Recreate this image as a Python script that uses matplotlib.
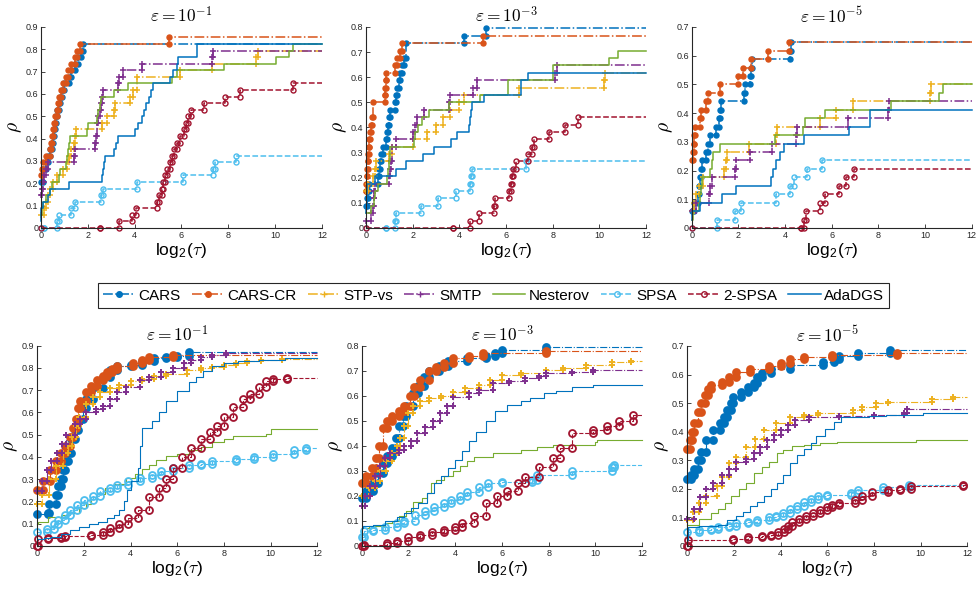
import matplotlib
matplotlib.use("Agg")
import matplotlib.pyplot as plt
from matplotlib.lines import Line2D
from matplotlib.ticker import FuncFormatter

plt.rcParams["font.family"] = ["Liberation Sans", "DejaVu Sans"]

SOLVERS = ["CARS", "CARS-CR", "STP-vs", "SMTP", "Nesterov", "SPSA", "2-SPSA", "AdaDGS"]
EPS_TITLES = [r"$\varepsilon = 10^{-1}$", r"$\varepsilon = 10^{-3}$", r"$\varepsilon = 10^{-5}$"]
YMAX = [0.9, 0.8, 0.7]
N_TOP = 34

# ---- top row: (log2 tau, problems solved out of N_TOP) ----
t1_cars = [(0, 7), (0.1, 9), (0.2, 10), (0.3, 11), (0.4, 12), (0.45, 13), (0.5, 14), (0.55, 15), (0.6, 16),
           (0.65, 17), (0.7, 18), (0.75, 19), (0.8, 20), (0.9, 21), (1.0, 22), (1.2, 23), (1.3, 24), (1.45, 25),
           (1.6, 26), (1.7, 27), (1.8, 28)]
t1_carscr = [(0, 8), (0.05, 9), (0.1, 10), (0.2, 11), (0.38, 12), (0.42, 13), (0.47, 14), (0.52, 15), (0.57, 16),
             (0.62, 17), (0.68, 18), (0.72, 19), (0.78, 20), (0.85, 21), (0.95, 22), (1.05, 23), (1.15, 24),
             (1.3, 25), (1.45, 26), (1.55, 27), (1.65, 28), (5.45, 29)]
t1_stp = [(0, 2), (0.15, 3), (0.2, 4), (0.3, 5), (0.4, 6), (0.5, 7), (0.7, 8), (0.95, 9), (1.1, 10), (1.2, 11),
          (1.3, 12), (1.4, 13), (1.45, 14), (1.5, 15), (2.6, 16), (2.8, 17), (3.1, 18), (3.15, 19), (3.8, 20),
          (3.95, 21), (4.1, 23), (5.95, 24), (7.3, 25), (9.2, 26), (9.25, 27)]
t1_smtp = [(0, 5), (0.05, 6), (0.1, 7), (0.15, 8), (0.2, 9), (0.3, 10), (1.4, 11), (1.45, 12), (2.3, 13),
           (2.35, 14), (2.4, 16), (2.45, 17), (2.5, 18), (2.55, 19), (2.6, 20), (2.65, 21), (3.3, 22), (3.35, 23),
           (3.5, 24), (4.3, 25), (7.3, 26), (7.35, 27)]
t1_nest = [(0, 2), (0.05, 3), (0.1, 4), (0.2, 5), (0.4, 6), (0.45, 7), (0.75, 8), (0.8, 9), (1.05, 10), (1.1, 11),
           (1.15, 12), (1.2, 13), (1.25, 14), (1.95, 15), (2.0, 16), (2.4, 17), (2.45, 18), (2.5, 19), (2.55, 20),
           (3.1, 21), (3.7, 22), (5.6, 23), (5.8, 24), (7.8, 25), (10.05, 26), (10.6, 27), (10.75, 28)]
t1_spsa = [(0, 0), (0.15, 0), (0.7, 1), (0.75, 2), (1.3, 3), (1.45, 4), (2.55, 5), (2.65, 6), (4.1, 7), (6.05, 8),
           (7.35, 9), (7.45, 10), (8.35, 11)]
t1_2spsa = [(0, 0), (2.5, 0), (3.35, 1), (3.9, 2), (4.05, 3), (4.95, 4), (5.05, 5), (5.15, 6), (5.2, 7), (5.3, 8),
            (5.4, 9), (5.5, 10), (5.6, 11), (5.7, 12), (5.8, 13), (5.95, 14), (6.1, 15), (6.2, 16), (6.3, 17),
            (6.4, 18), (6.95, 19), (7.85, 20), (8.5, 21), (10.75, 22)]
t1_ada = [(0, 1), (0.02, 3), (0.1, 4), (0.3, 5), (0.4, 6), (1.2, 7), (2.6, 8), (2.65, 9), (2.7, 10), (2.75, 11),
          (3.1, 12), (3.2, 13), (3.3, 14), (4.0, 15), (4.15, 16), (4.3, 17), (4.4, 18), (4.5, 19), (4.6, 20),
          (4.7, 21), (4.8, 22), (5.5, 23), (5.65, 24), (5.8, 25), (5.85, 26), (6.65, 28)]

t2_cars = [(0, 3), (0.05, 4), (0.1, 5), (0.15, 6), (0.5, 7), (0.55, 8), (0.6, 9), (0.65, 10), (0.75, 11),
           (0.85, 12), (0.9, 13), (0.95, 14), (1.0, 15), (1.05, 16), (1.25, 17), (1.3, 18), (1.35, 19), (1.4, 20),
           (1.45, 21), (1.55, 22), (1.65, 23), (1.7, 25), (4.2, 26), (5.15, 27)]
t2_carscr = [(0, 5), (0.02, 6), (0.04, 7), (0.06, 8), (0.08, 9), (0.1, 10), (0.12, 11), (0.14, 12), (0.16, 13),
             (0.2, 14), (0.25, 15), (0.32, 17), (0.8, 18), (0.82, 19), (0.84, 20), (0.86, 21), (1.25, 22),
             (1.35, 23), (1.45, 24), (1.55, 25), (5.0, 26)]
t2_stp = [(0, 5), (0.1, 6), (0.3, 7), (0.4, 8), (0.45, 9), (1.0, 10), (1.1, 11), (2.0, 12), (2.6, 13), (3.0, 14),
          (3.3, 15), (3.6, 16), (4.0, 17), (4.2, 18), (6.55, 19), (10.2, 20), (10.25, 21)]
t2_smtp = [(0, 1), (0.2, 2), (0.3, 3), (0.33, 4), (0.36, 5), (0.4, 6), (1.0, 7), (1.05, 8), (1.08, 9), (1.1, 11),
           (1.3, 12), (2.0, 13), (2.1, 14), (2.2, 15), (2.5, 16), (3.55, 17), (3.6, 18), (4.6, 19), (4.75, 20),
           (8.1, 21), (8.2, 22)]
t2_nest = [(0, 2), (0.2, 3), (0.35, 4), (0.4, 5), (0.5, 6), (0.9, 7), (0.95, 8), (1.0, 9), (1.05, 11), (2.05, 12),
           (2.1, 13), (2.25, 14), (2.4, 15), (2.7, 16), (3.55, 17), (4.9, 18), (6.1, 20), (8.0, 22), (10.4, 23),
           (10.8, 24)]
t2_spsa = [(0, 0), (0.85, 0), (1.25, 1), (1.3, 2), (2.35, 3), (3.1, 4), (3.85, 5), (4.45, 6), (4.5, 7), (4.55, 8),
           (6.85, 9)]
t2_2spsa = [(0, 0), (3.75, 0), (4.45, 1), (4.85, 2), (5.5, 3), (5.55, 4), (6.15, 5), (6.2, 6), (6.25, 7), (6.3, 8),
            (6.45, 9), (6.95, 10), (7.1, 11), (7.2, 12), (7.85, 13), (8.55, 14), (9.1, 15)]
t2_ada = [(0, 2), (0.02, 3), (0.04, 6), (0.4, 7), (1.3, 8), (1.7, 9), (2.45, 10), (2.9, 11), (3.65, 12),
          (3.9, 13), (4.4, 14), (4.45, 15), (4.5, 16), (4.55, 17), (5.05, 18), (6.65, 20), (6.95, 21)]

t3_cars = [(0, 2), (0.1, 3), (0.25, 4), (0.3, 5), (0.35, 6), (0.4, 7), (0.45, 8), (0.6, 9), (0.7, 10), (0.8, 11),
           (1.05, 12), (1.15, 13), (1.2, 14), (1.25, 15), (2.25, 16), (2.3, 17), (2.5, 18), (2.55, 19), (2.6, 20),
           (4.2, 21), (4.25, 22)]
t3_carscr = [(0, 8), (0.05, 9), (0.08, 10), (0.1, 11), (0.15, 12), (0.35, 13), (0.4, 14), (0.6, 15), (0.7, 16),
             (1.2, 17), (2.0, 18), (2.2, 19), (2.55, 20), (3.25, 21), (4.15, 22)]
t3_stp = [(0, 2), (0.1, 3), (0.2, 4), (0.3, 5), (0.5, 6), (1.4, 7), (1.45, 8), (1.5, 9), (2.45, 10), (3.6, 11),
          (3.65, 12), (5.5, 13), (6.2, 14), (6.9, 15), (10.2, 16), (10.25, 17)]
t3_smtp = [(0, 2), (0.2, 3), (0.75, 4), (0.8, 5), (0.85, 6), (1.85, 7), (1.9, 8), (2.5, 9), (3.45, 10),
           (4.45, 11), (4.5, 12), (6.7, 13), (8.4, 14), (8.45, 15)]
t3_nest = [(0, 1), (0.05, 2), (0.3, 3), (0.35, 4), (0.4, 5), (0.45, 6), (0.8, 7), (0.85, 8), (0.9, 9), (1.2, 10),
           (3.55, 11), (4.75, 12), (4.85, 13), (5.7, 14), (8.55, 15), (10.6, 16), (10.75, 17)]
t3_spsa = [(0, 0), (1.1, 1), (1.85, 2), (2.1, 3), (3.6, 4), (4.2, 5), (4.4, 6), (4.95, 7), (5.6, 8)]
t3_2spsa = [(0, 0), (4.7, 0), (4.8, 1), (4.9, 2), (5.5, 3), (5.7, 4), (6.3, 5), (6.6, 6), (6.95, 7)]
t3_ada = [(0, 1), (0.02, 2), (0.35, 3), (1.3, 4), (1.9, 5), (3.4, 6), (3.5, 7), (3.6, 8), (3.8, 9), (3.95, 10),
          (4.8, 11), (6.75, 12), (7.65, 14)]

# ---- bottom row: (log2 tau, rho) ----
b1_cars = [(0, 0.145), (0.45, 0.15), (0.5, 0.19), (0.8, 0.23), (0.9, 0.27), (1.0, 0.3), (1.1, 0.34), (1.2, 0.38),
           (1.3, 0.42), (1.45, 0.48), (1.6, 0.52), (1.75, 0.57), (1.95, 0.62), (2.1, 0.66), (2.4, 0.71),
           (2.8, 0.76), (3.1, 0.79), (3.4, 0.81), (4.0, 0.815), (4.5, 0.83), (5.0, 0.845), (5.5, 0.85),
           (6.0, 0.855), (6.5, 0.87)]
b1_carscr = [(0, 0.25), (0.25, 0.29), (0.55, 0.34), (0.8, 0.38), (1.0, 0.42), (1.2, 0.45), (1.4, 0.49),
             (1.55, 0.53), (1.65, 0.57), (1.75, 0.62), (1.85, 0.65), (2.1, 0.69), (2.3, 0.72), (2.55, 0.745),
             (2.8, 0.765), (3.0, 0.78), (3.2, 0.795), (3.4, 0.81), (4.1, 0.82), (4.5, 0.835), (4.8, 0.85),
             (5.8, 0.86)]
b1_stp = [(0, 0.19), (0.2, 0.23), (0.5, 0.3), (0.8, 0.36), (1.1, 0.42), (1.3, 0.45), (1.5, 0.49), (1.65, 0.54),
          (1.8, 0.58), (2.1, 0.64), (2.4, 0.67), (2.7, 0.69), (3.1, 0.71), (3.5, 0.725), (4.0, 0.74), (4.5, 0.75),
          (5.0, 0.765), (5.5, 0.775), (6.4, 0.79), (7.0, 0.8), (7.5, 0.805), (8.0, 0.815), (8.5, 0.82),
          (9.0, 0.83), (9.6, 0.835), (10.5, 0.84)]
b1_smtp = [(0, 0.245), (0.2, 0.29), (0.4, 0.34), (0.6, 0.38), (0.85, 0.42), (1.05, 0.46), (1.25, 0.5),
           (1.6, 0.55), (1.85, 0.57), (2.1, 0.6), (2.5, 0.615), (2.8, 0.63), (3.1, 0.66), (3.4, 0.69),
           (3.8, 0.715), (4.4, 0.745), (4.8, 0.76), (5.3, 0.78), (5.8, 0.8), (6.3, 0.82), (6.6, 0.835),
           (7.0, 0.85), (7.5, 0.86), (8.1, 0.865)]
b1_nest = [(0, 0.1), (0.05, 0.11), (0.45, 0.13), (1.0, 0.14), (1.3, 0.15), (1.8, 0.17), (2.1, 0.19), (2.3, 0.21),
           (2.55, 0.235), (2.9, 0.26), (3.3, 0.28), (3.8, 0.305), (4.2, 0.325), (4.5, 0.345), (4.8, 0.365),
           (5.1, 0.385), (5.5, 0.405), (6.0, 0.415), (6.5, 0.43), (7.0, 0.445), (7.5, 0.465), (8.0, 0.48),
           (8.4, 0.495), (9.8, 0.505), (10.0, 0.525)]
b1_spsa = [(0, 0.065), (0.4, 0.075), (0.7, 0.1), (0.9, 0.115), (1.2, 0.14), (1.4, 0.16), (1.7, 0.185),
           (2.0, 0.205), (2.4, 0.225), (2.7, 0.245), (3.1, 0.26), (3.4, 0.275), (3.9, 0.29), (4.4, 0.305),
           (4.9, 0.32), (5.3, 0.335), (5.8, 0.35), (6.5, 0.365), (7.0, 0.37), (7.5, 0.38), (8.5, 0.39),
           (9.3, 0.4), (10.1, 0.415), (11.0, 0.43), (11.5, 0.44)]
b1_2spsa = [(0, 0.0), (0.02, 0.03), (0.45, 0.035), (1.0, 0.04), (1.2, 0.045), (2.3, 0.05), (2.8, 0.065),
            (3.1, 0.08), (3.5, 0.1), (3.9, 0.125), (4.3, 0.16), (4.8, 0.22), (5.2, 0.26), (5.5, 0.3), (5.8, 0.35),
            (6.2, 0.4), (6.6, 0.44), (7.0, 0.48), (7.4, 0.51), (7.7, 0.54), (8.0, 0.58), (8.4, 0.625),
            (8.8, 0.66), (9.1, 0.685), (9.5, 0.715), (9.8, 0.74), (10.1, 0.75), (10.7, 0.755)]
b1_ada = [(0, 0.03), (0.3, 0.035), (0.6, 0.04), (1.0, 0.055), (1.4, 0.07), (1.8, 0.085), (2.2, 0.1), (2.6, 0.11),
          (3.0, 0.125), (3.3, 0.14), (3.5, 0.16), (3.7, 0.2), (3.85, 0.25), (4.0, 0.29), (4.3, 0.35),
          (4.4, 0.45), (4.5, 0.53), (4.9, 0.56), (5.2, 0.6), (5.5, 0.65), (6.0, 0.695), (6.5, 0.735),
          (6.8, 0.76), (7.1, 0.785), (7.5, 0.81), (8.0, 0.82), (8.6, 0.83), (9.5, 0.835), (10.6, 0.845)]

b2_cars = [(0, 0.19), (0.2, 0.22), (0.5, 0.25), (0.7, 0.29), (0.9, 0.33), (1.1, 0.36), (1.3, 0.39), (1.45, 0.43),
           (1.6, 0.48), (1.75, 0.52), (1.9, 0.56), (2.2, 0.61), (2.4, 0.64), (2.65, 0.675), (2.9, 0.7),
           (3.3, 0.72), (3.7, 0.74), (4.5, 0.75), (5.3, 0.76), (5.7, 0.77), (6.0, 0.785), (7.9, 0.795)]
b2_carscr = [(0, 0.25), (0.2, 0.28), (0.45, 0.31), (0.6, 0.35), (0.75, 0.4), (0.9, 0.47), (1.1, 0.5),
             (1.3, 0.52), (1.6, 0.54), (1.8, 0.56), (2.05, 0.6), (2.25, 0.635), (2.5, 0.665), (2.9, 0.7),
             (3.2, 0.715), (3.5, 0.73), (3.9, 0.75), (4.6, 0.76), (5.2, 0.77), (7.9, 0.78)]
b2_stp = [(0, 0.2), (0.3, 0.23), (0.55, 0.26), (0.8, 0.3), (1.05, 0.34), (1.3, 0.37), (1.5, 0.4), (1.65, 0.43),
          (1.8, 0.48), (2.0, 0.53), (2.2, 0.56), (2.5, 0.58), (2.9, 0.59), (3.4, 0.6), (3.9, 0.615), (4.4, 0.63),
          (5.0, 0.645), (5.5, 0.665), (6.0, 0.685), (6.8, 0.69), (7.9, 0.705), (8.6, 0.71), (9.6, 0.725),
          (10.7, 0.735), (11.5, 0.74)]
b2_smtp = [(0, 0.16), (0.15, 0.2), (0.35, 0.24), (0.55, 0.28), (0.8, 0.32), (1.0, 0.35), (1.2, 0.37),
           (1.6, 0.385), (1.8, 0.4), (2.1, 0.42), (2.35, 0.45), (2.7, 0.475), (3.05, 0.5), (3.35, 0.53),
           (3.65, 0.56), (3.9, 0.595), (4.6, 0.61), (5.0, 0.625), (5.6, 0.65), (6.3, 0.66), (7.0, 0.67),
           (7.6, 0.68), (7.9, 0.69), (9.0, 0.695), (9.9, 0.705)]
b2_nest = [(0, 0.07), (0.3, 0.08), (1.0, 0.09), (1.3, 0.1), (1.6, 0.12), (1.9, 0.14), (2.2, 0.175), (2.6, 0.19),
           (2.8, 0.21), (2.95, 0.25), (3.2, 0.265), (3.5, 0.28), (3.9, 0.3), (4.2, 0.32), (4.5, 0.34),
           (4.8, 0.355), (5.6, 0.37), (6.8, 0.385), (7.5, 0.395), (8.2, 0.405), (10.0, 0.415), (10.05, 0.425)]
b2_spsa = [(0, 0.035), (0.1, 0.06), (0.5, 0.065), (1.0, 0.075), (1.5, 0.09), (1.8, 0.1), (2.3, 0.125),
           (2.7, 0.14), (3.1, 0.155), (3.5, 0.17), (3.8, 0.185), (4.2, 0.2), (4.5, 0.215), (5.0, 0.235),
           (5.4, 0.25), (6.0, 0.255), (7.3, 0.265), (7.5, 0.285), (9.0, 0.3), (10.7, 0.315), (10.8, 0.325)]
b2_2spsa = [(0, 0.0), (0.1, 0.005), (1.1, 0.01), (1.5, 0.02), (2.0, 0.035), (2.5, 0.045), (3.0, 0.055),
            (3.5, 0.065), (4.0, 0.075), (4.3, 0.09), (4.8, 0.12), (5.3, 0.17), (5.8, 0.2), (6.2, 0.22),
            (6.7, 0.25), (7.0, 0.275), (7.6, 0.315), (8.2, 0.35), (8.5, 0.39), (9.0, 0.45), (9.9, 0.465),
            (10.5, 0.48), (11.0, 0.5), (11.6, 0.525)]
b2_ada = [(0, 0.07), (0.05, 0.08), (0.5, 0.085), (1.0, 0.1), (1.5, 0.115), (1.8, 0.13), (2.1, 0.15), (2.4, 0.17),
          (2.8, 0.21), (3.1, 0.25), (3.4, 0.28), (3.7, 0.31), (4.0, 0.345), (4.3, 0.38), (4.6, 0.42),
          (4.9, 0.455), (5.3, 0.5), (5.7, 0.54), (6.2, 0.565), (6.8, 0.58), (7.2, 0.59), (7.8, 0.61),
          (8.3, 0.62), (9.0, 0.635), (9.9, 0.645)]

b3_cars = [(0, 0.235), (0.15, 0.25), (0.3, 0.27), (0.45, 0.3), (0.6, 0.33), (0.8, 0.37), (1.1, 0.405),
           (1.4, 0.43), (1.55, 0.45), (1.7, 0.475), (1.85, 0.5), (1.95, 0.52), (2.3, 0.54), (2.6, 0.555),
           (2.85, 0.57), (3.0, 0.59), (3.2, 0.605), (3.6, 0.62), (4.4, 0.635), (5.8, 0.645), (6.3, 0.655),
           (6.5, 0.665), (7.3, 0.675), (8.7, 0.685)]
b3_carscr = [(0, 0.34), (0.1, 0.37), (0.2, 0.4), (0.3, 0.43), (0.45, 0.47), (0.6, 0.5), (0.75, 0.53),
             (0.9, 0.55), (1.0, 0.565), (1.5, 0.575), (1.8, 0.59), (2.1, 0.61), (2.7, 0.62), (3.5, 0.63),
             (4.0, 0.64), (4.4, 0.655), (5.0, 0.66), (6.2, 0.67), (9.0, 0.675)]
b3_stp = [(0, 0.09), (0.25, 0.12), (0.5, 0.15), (0.8, 0.175), (1.25, 0.21), (1.5, 0.24), (1.8, 0.29),
          (2.1, 0.31), (2.5, 0.345), (2.9, 0.375), (3.3, 0.405), (3.8, 0.43), (4.4, 0.45), (5.0, 0.46),
          (5.6, 0.465), (7.1, 0.475), (7.5, 0.485), (8.1, 0.5), (8.6, 0.505), (10.5, 0.515), (11.4, 0.52)]
b3_smtp = [(0, 0.095), (0.3, 0.13), (0.55, 0.17), (0.8, 0.2), (1.1, 0.22), (1.5, 0.25), (1.8, 0.27),
           (2.1, 0.295), (2.5, 0.305), (2.85, 0.325), (3.1, 0.345), (3.4, 0.37), (3.7, 0.39), (4.0, 0.405),
           (4.3, 0.425), (4.6, 0.44), (5.2, 0.45), (6.5, 0.455), (8.0, 0.46), (9.3, 0.465), (9.4, 0.48)]
b3_nest = [(0, 0.075), (0.5, 0.095), (1.0, 0.115), (1.3, 0.13), (1.6, 0.15), (1.85, 0.175), (2.2, 0.2),
           (2.5, 0.22), (2.85, 0.255), (3.2, 0.275), (3.5, 0.295), (3.85, 0.325), (4.1, 0.335), (4.5, 0.35),
           (5.0, 0.355), (5.7, 0.36), (6.4, 0.365), (9.8, 0.37)]
b3_spsa = [(0, 0.05), (0.5, 0.055), (1.0, 0.06), (1.3, 0.065), (1.8, 0.07), (2.1, 0.08), (2.6, 0.085),
           (3.0, 0.09), (3.5, 0.1), (3.8, 0.105), (4.1, 0.115), (4.4, 0.13), (4.7, 0.14), (5.0, 0.155),
           (5.3, 0.165), (5.6, 0.175), (6.0, 0.18), (7.0, 0.185), (7.3, 0.195), (8.4, 0.205), (9.5, 0.215)]
b3_2spsa = [(0, 0.0), (0.02, 0.02), (1.95, 0.025), (2.6, 0.03), (3.2, 0.035), (3.6, 0.04), (3.9, 0.05),
            (4.15, 0.06), (4.3, 0.07), (4.5, 0.085), (4.8, 0.095), (5.1, 0.105), (5.4, 0.115), (5.7, 0.125),
            (6.0, 0.135), (6.2, 0.145), (6.5, 0.15), (7.2, 0.16), (7.5, 0.175), (7.9, 0.19), (8.6, 0.195),
            (9.1, 0.2), (9.6, 0.21), (11.8, 0.215)]
b3_ada = [(0, 0.02), (0.02, 0.065), (0.5, 0.07), (1.3, 0.075), (1.7, 0.09), (2.1, 0.105), (2.4, 0.12),
          (2.7, 0.14), (3.0, 0.155), (3.3, 0.175), (3.6, 0.2), (3.85, 0.22), (4.1, 0.25), (4.4, 0.29),
          (4.7, 0.32), (5.0, 0.34), (5.3, 0.36), (5.5, 0.385), (5.9, 0.41), (6.3, 0.435), (6.6, 0.45),
          (7.8, 0.455), (8.5, 0.46), (10.1, 0.465)]

TOP = [
    [t1_cars, t1_carscr, t1_stp, t1_smtp, t1_nest, t1_spsa, t1_2spsa, t1_ada],
    [t2_cars, t2_carscr, t2_stp, t2_smtp, t2_nest, t2_spsa, t2_2spsa, t2_ada],
    [t3_cars, t3_carscr, t3_stp, t3_smtp, t3_nest, t3_spsa, t3_2spsa, t3_ada],
]
BOTTOM = [
    [b1_cars, b1_carscr, b1_stp, b1_smtp, b1_nest, b1_spsa, b1_2spsa, b1_ada],
    [b2_cars, b2_carscr, b2_stp, b2_smtp, b2_nest, b2_spsa, b2_2spsa, b2_ada],
    [b3_cars, b3_carscr, b3_stp, b3_smtp, b3_nest, b3_spsa, b3_2spsa, b3_ada],
]

# matlab default colour order
STYLE = {
    "CARS": dict(color="#0072BD", ls="-.", marker="o", filled=True),
    "CARS-CR": dict(color="#D95319", ls="-.", marker="o", filled=True),
    "STP-vs": dict(color="#EDB120", ls="-.", marker="+", filled=True),
    "SMTP": dict(color="#7E2F8E", ls="-.", marker="+", filled=True),
    "Nesterov": dict(color="#77AC30", ls="-", marker=None, filled=True),
    "SPSA": dict(color="#4DBEEE", ls="--", marker="o", filled=False),
    "2-SPSA": dict(color="#A2142F", ls="--", marker="o", filled=False),
    "AdaDGS": dict(color="#0072BD", ls="-", marker=None, filled=True),
}

AXES_POS = [
    [[0.0419, 0.6136, 0.2873, 0.3407], [0.3742, 0.6136, 0.2863, 0.3407], [0.7073, 0.6136, 0.2863, 0.3407]],
    [[0.0381, 0.0746, 0.2863, 0.3395], [0.3698, 0.0746, 0.2869, 0.3390], [0.7028, 0.0746, 0.2863, 0.3390]],
]
INK = "#262626"


def stairs(pts, scale=1.0, xmax=12.0):
    xs, ys = [], []
    for i, (x, y) in enumerate(pts):
        if i > 0:
            xs.append(x)
            ys.append(ys[-1])
        xs.append(x)
        ys.append(y / scale)
    xs.append(xmax)
    ys.append(ys[-1])
    return xs, ys


def draw_panel(ax, series, scale, ymax, title, lw, ms, plus_ms, mew):
    for name, pts in zip(SOLVERS, series):
        st = STYLE[name]
        xs, ys = stairs(pts, scale)
        kw = dict(color=st["color"], ls=st["ls"], lw=lw, clip_on=False)
        if st["marker"]:
            kw.update(marker=st["marker"], markevery=list(range(len(xs) - 1)))
            if st["marker"] == "+":
                kw.update(ms=plus_ms, mew=mew + 0.1)
            else:
                kw.update(ms=ms, mew=mew,
                          mfc=st["color"] if st["filled"] else "none", mec=st["color"])
        ax.plot(xs, ys, **kw)

    ax.set_xlim(0, 12)
    ax.set_ylim(0, ymax)
    ax.set_xticks(range(0, 13, 2))
    ax.set_yticks([i / 10 for i in range(int(round(ymax * 10)) + 1)])
    ax.yaxis.set_major_formatter(FuncFormatter(lambda v, p: "0" if v == 0 else f"{v:.1f}"))
    for s in ("top", "right"):
        ax.spines[s].set_visible(False)
    for s in ("left", "bottom"):
        ax.spines[s].set_color(INK)
        ax.spines[s].set_linewidth(0.8)
    ax.tick_params(direction="in", length=3, width=0.6, colors=INK, labelsize=6.5, pad=2)
    ax.set_title(title, fontsize=12.5, pad=3, math_fontfamily="cm")
    ax.set_xlabel(r"log$_{\mathregular{2}}$($\tau$)", fontsize=12.5, labelpad=1, math_fontfamily="cm")
    ax.set_ylabel(r"$\rho$", fontsize=14, labelpad=1, math_fontfamily="cm")


fig = plt.figure(figsize=(9.78, 5.90), dpi=100)

for j in range(3):
    ax = fig.add_axes(AXES_POS[0][j])
    draw_panel(ax, TOP[j], N_TOP, YMAX[j], EPS_TITLES[j], lw=1.1, ms=3.6, plus_ms=4.5, mew=1.0)
for j in range(3):
    ax = fig.add_axes(AXES_POS[1][j])
    draw_panel(ax, BOTTOM[j], 1.0, YMAX[j], EPS_TITLES[j], lw=0.8, ms=5.0, plus_ms=5.0, mew=1.3)

handles = []
for name in SOLVERS:
    st = STYLE[name]
    h = Line2D([], [], color=st["color"], ls=st["ls"], lw=1.1)
    if st["marker"]:
        h.set_marker(st["marker"])
        h.set_markersize(4 if st["marker"] == "o" else 5)
        h.set_markerfacecolor(st["color"] if st["filled"] else "none")
    handles.append(h)

leg = fig.legend(handles, SOLVERS, loc="center", bbox_to_anchor=(0.5045, 0.499), ncol=8, fontsize=11,
                 frameon=True, fancybox=False, edgecolor=INK, framealpha=1, handlelength=2.1,
                 handletextpad=0.2, columnspacing=0.75, borderpad=0.35, borderaxespad=0.3, numpoints=1)
leg.get_frame().set_linewidth(0.8)

fig.savefig("out.png", dpi=100)
